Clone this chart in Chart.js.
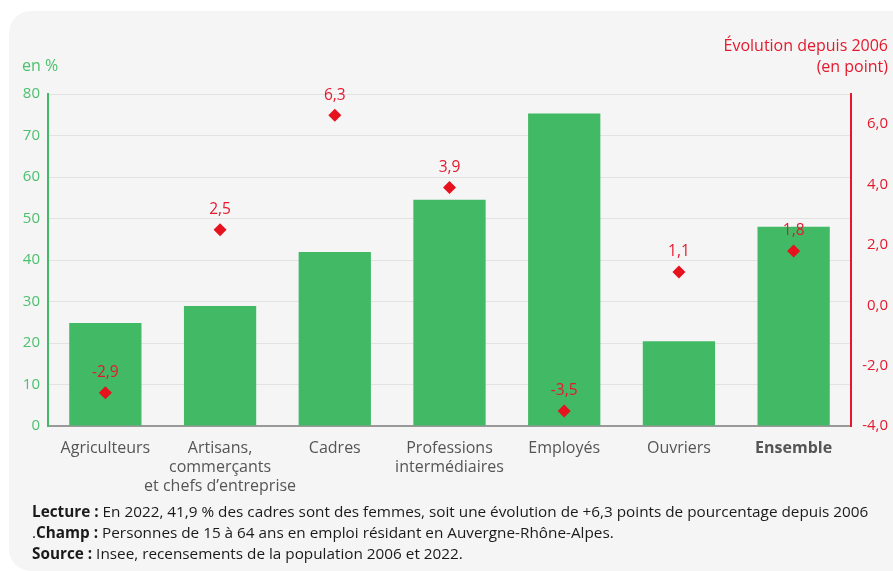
<!DOCTYPE html>
<html><head><meta charset="utf-8">
<script src="https://cdn.jsdelivr.net/npm/chart.js@4"></script>
<style>
html,body{margin:0;padding:0;background:#fff;width:893px;height:571px;overflow:hidden;font-family:"Open Sans",sans-serif;}
#panel{position:absolute;left:9px;top:11px;width:900px;height:560px;background:#f5f5f5;border-radius:22px 0 0 22px;}
#wrap{position:absolute;left:0;top:0;width:893px;height:571px;}
.t{position:absolute;white-space:nowrap;}
#yl{left:22px;top:54px;color:#4cc06e;font-size:16px;line-height:22px;}
#yr{right:5px;top:35px;color:#e4192d;font-size:16px;text-align:right;line-height:21px;}
#foot{left:32px;top:501px;color:#1a1a1a;font-size:15.3px;line-height:21px;}
</style></head>
<body>
<div id="panel"></div>
<div id="wrap"><canvas id="c" width="893" height="571"></canvas></div>
<div class="t" id="yl">en %</div>
<div class="t" id="yr">Évolution depuis 2006<br>(en point)</div>
<div class="t" id="foot"><b>Lecture :</b> En 2022, 41,9 % des cadres sont des femmes, soit une évolution de +6,3 points de pourcentage depuis 2006<br>.<b>Champ :</b> Personnes de 15 à 64 ans en emploi résidant en Auvergne-Rhône-Alpes.<br><b>Source :</b> Insee, recensements de la population 2006 et 2022.</div>
<script>
const categories = [
  "Agriculteurs",
  ["Artisans,", "commerçants", "et chefs d’entreprise"],
  "Cadres",
  ["Professions", "intermédiaires"],
  "Employés",
  "Ouvriers",
  "Ensemble"
];
const shareWomen = [24.8, 28.9, 41.9, 54.5, 75.3, 20.4, 48.0];
const evolution = [-2.9, 2.5, 6.3, 3.9, -3.5, 1.1, 1.8];
const leftTicks = [0, 10, 20, 30, 40, 50, 60, 70, 80];
const rightTicks = [-4, -2, 0, 2, 4, 6];

const GREEN = '#42b964', RED = '#e4192d', RED_MK = '#e6121e';
const fmt = v => v.toFixed(1).replace('.', ',');

const labelPlugin = {
  id: 'evoLabels',
  afterDatasetsDraw(chart) {
    const meta = chart.getDatasetMeta(1);
    const ctx = chart.ctx;
    ctx.save();
    ctx.fillStyle = RED;
    ctx.font = '15.5px "Open Sans"';
    ctx.textAlign = 'center';
    ctx.textBaseline = 'middle';
    meta.data.forEach((pt, i) => {
      ctx.fillText(fmt(evolution[i]), pt.x, pt.y - 20);
    });
    ctx.restore();
  }
};

new Chart(document.getElementById('c'), {
  type: 'bar',
  data: {
    labels: categories,
    datasets: [
      { type: 'bar', data: shareWomen, backgroundColor: GREEN, yAxisID: 'y', order: 2,
        categoryPercentage: 1, barPercentage: 0.63 },
      { type: 'line', data: evolution, yAxisID: 'y2', showLine: false, order: 1,
        pointStyle: 'rectRot', pointRadius: 6.5, pointBackgroundColor: RED_MK, pointBorderColor: RED_MK,
        pointBorderWidth: 0 }
    ]
  },
  options: {
    responsive: false, animation: false, devicePixelRatio: 1,
    layout: { padding: { left: 0, right: 5, top: 94, bottom: 0 } },
    plugins: { legend: { display: false }, tooltip: { enabled: false } },
    scales: {
      x: {
        grid: { display: false, drawTicks: false },
        border: { color: '#999', width: 2 },
        ticks: {
          color: '#555', padding: 13, maxRotation: 0, autoSkip: false,
          font: c => ({ family: '"Open Sans"', size: 16, weight: c.index === 6 ? 'bold' : 'normal', lineHeight: 1.19 })
        },
        afterFit: s => { s.height = 145; }
      },
      y: {
        position: 'left', min: 0, max: 80,
        afterBuildTicks: s => { s.ticks = leftTicks.map(v => ({ value: v })); },
        grid: { color: '#e2e2e2', drawTicks: false },
        border: { color: GREEN, width: 2 },
        ticks: { color: '#4cc06e', padding: 8, font: { family: '"Open Sans"', size: 15 } },
        afterFit: s => { s.width = 48; }
      },
      y2: {
        position: 'right', min: -4, max: 7,
        afterBuildTicks: s => { s.ticks = rightTicks.map(v => ({ value: v })); },
        grid: { display: false, drawTicks: false },
        border: { color: RED, width: 2 },
        ticks: { color: RED, crossAlign: 'far', font: { family: '"Open Sans"', size: 15 },
                 callback: v => fmt(v) },
        afterFit: s => { s.width = 37; }
      }
    }
  },
  plugins: [labelPlugin]
});
</script>
</body></html>
